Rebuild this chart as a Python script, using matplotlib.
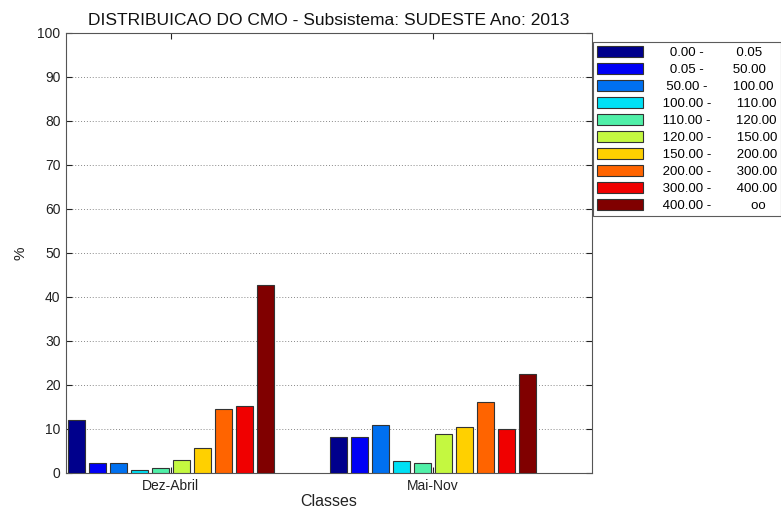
import matplotlib
matplotlib.use("Agg")
import matplotlib.pyplot as plt
import numpy as np

plt.rcParams['font.family'] = ['Liberation Sans', 'DejaVu Sans']

# dados
periodos = ["Dez-Abril", "Mai-Nov"]
limite_inf = [0.00, 0.05, 50.00, 100.00, 110.00, 120.00, 150.00, 200.00, 300.00, 400.00]
limite_sup = ["0.05", "50.00", "100.00", "110.00", "120.00", "150.00", "200.00", "300.00", "400.00", "oo"]
dez_abril = [12.0, 2.3, 2.2, 0.7, 1.2, 3.0, 5.6, 14.5, 15.2, 42.8]
mai_nov = [8.1, 8.1, 10.9, 2.7, 2.3, 8.8, 10.4, 16.1, 10.0, 22.6]

cores = ["#00008c", "#0000f5", "#0070f0", "#00e0f5", "#50f0a8",
         "#c4f840", "#ffd000", "#ff6400", "#f00000", "#800000"]

valores = np.array([dez_abril, mai_nov])
n = len(limite_inf)
x = np.arange(1, len(periodos) + 1)
passo = 0.0802
largura = 0.065

fig = plt.figure(figsize=(7.81, 5.09), dpi=100)
ax = fig.add_axes([66 / 781, 36 / 509, (592 - 66) / 781, (473 - 33) / 509])

for i in range(n):
    rotulo = f"{limite_inf[i]:7.2f} -      {limite_sup[i]:>7}"
    ax.bar(x + (i - (n - 1) / 2) * passo, valores[:, i], width=largura,
           color=cores[i], edgecolor="#333333", linewidth=0.8, label=rotulo, zorder=3)

ax.set_xlim(0.6, 2.607)
ax.set_ylim(0, 100)
ax.set_yticks(np.arange(0, 101, 10))
ax.set_xticks(x)
ax.set_xticklabels(periodos)
ax.yaxis.grid(True, linestyle=(0, (1, 2)), color="#888888", linewidth=0.7, zorder=0)
ax.tick_params(direction="in", top=True, right=True, labelsize=10, colors="#222222", length=4, pad=4)
for s in ax.spines.values():
    s.set_color("#555555")

ax.set_title("DISTRIBUICAO DO CMO - Subsistema: SUDESTE Ano: 2013", fontsize=12.5, pad=6, color="#111111")
ax.set_xlabel("Classes", fontsize=11.5, labelpad=1, color="#222222")
ax.set_ylabel("%", fontsize=11, labelpad=7, color="#222222")

leg = fig.legend(loc="upper left", bbox_to_anchor=(593 / 781, 1 - 42 / 509), fontsize=9.5,
                 frameon=True, fancybox=False, edgecolor="#333333", handlelength=3.5,
                 handleheight=0.9, labelspacing=0.3, borderpad=0.3, handletextpad=1.2,
                 borderaxespad=0)
leg.get_frame().set_linewidth(0.8)

fig.savefig("out.png", dpi=100)
